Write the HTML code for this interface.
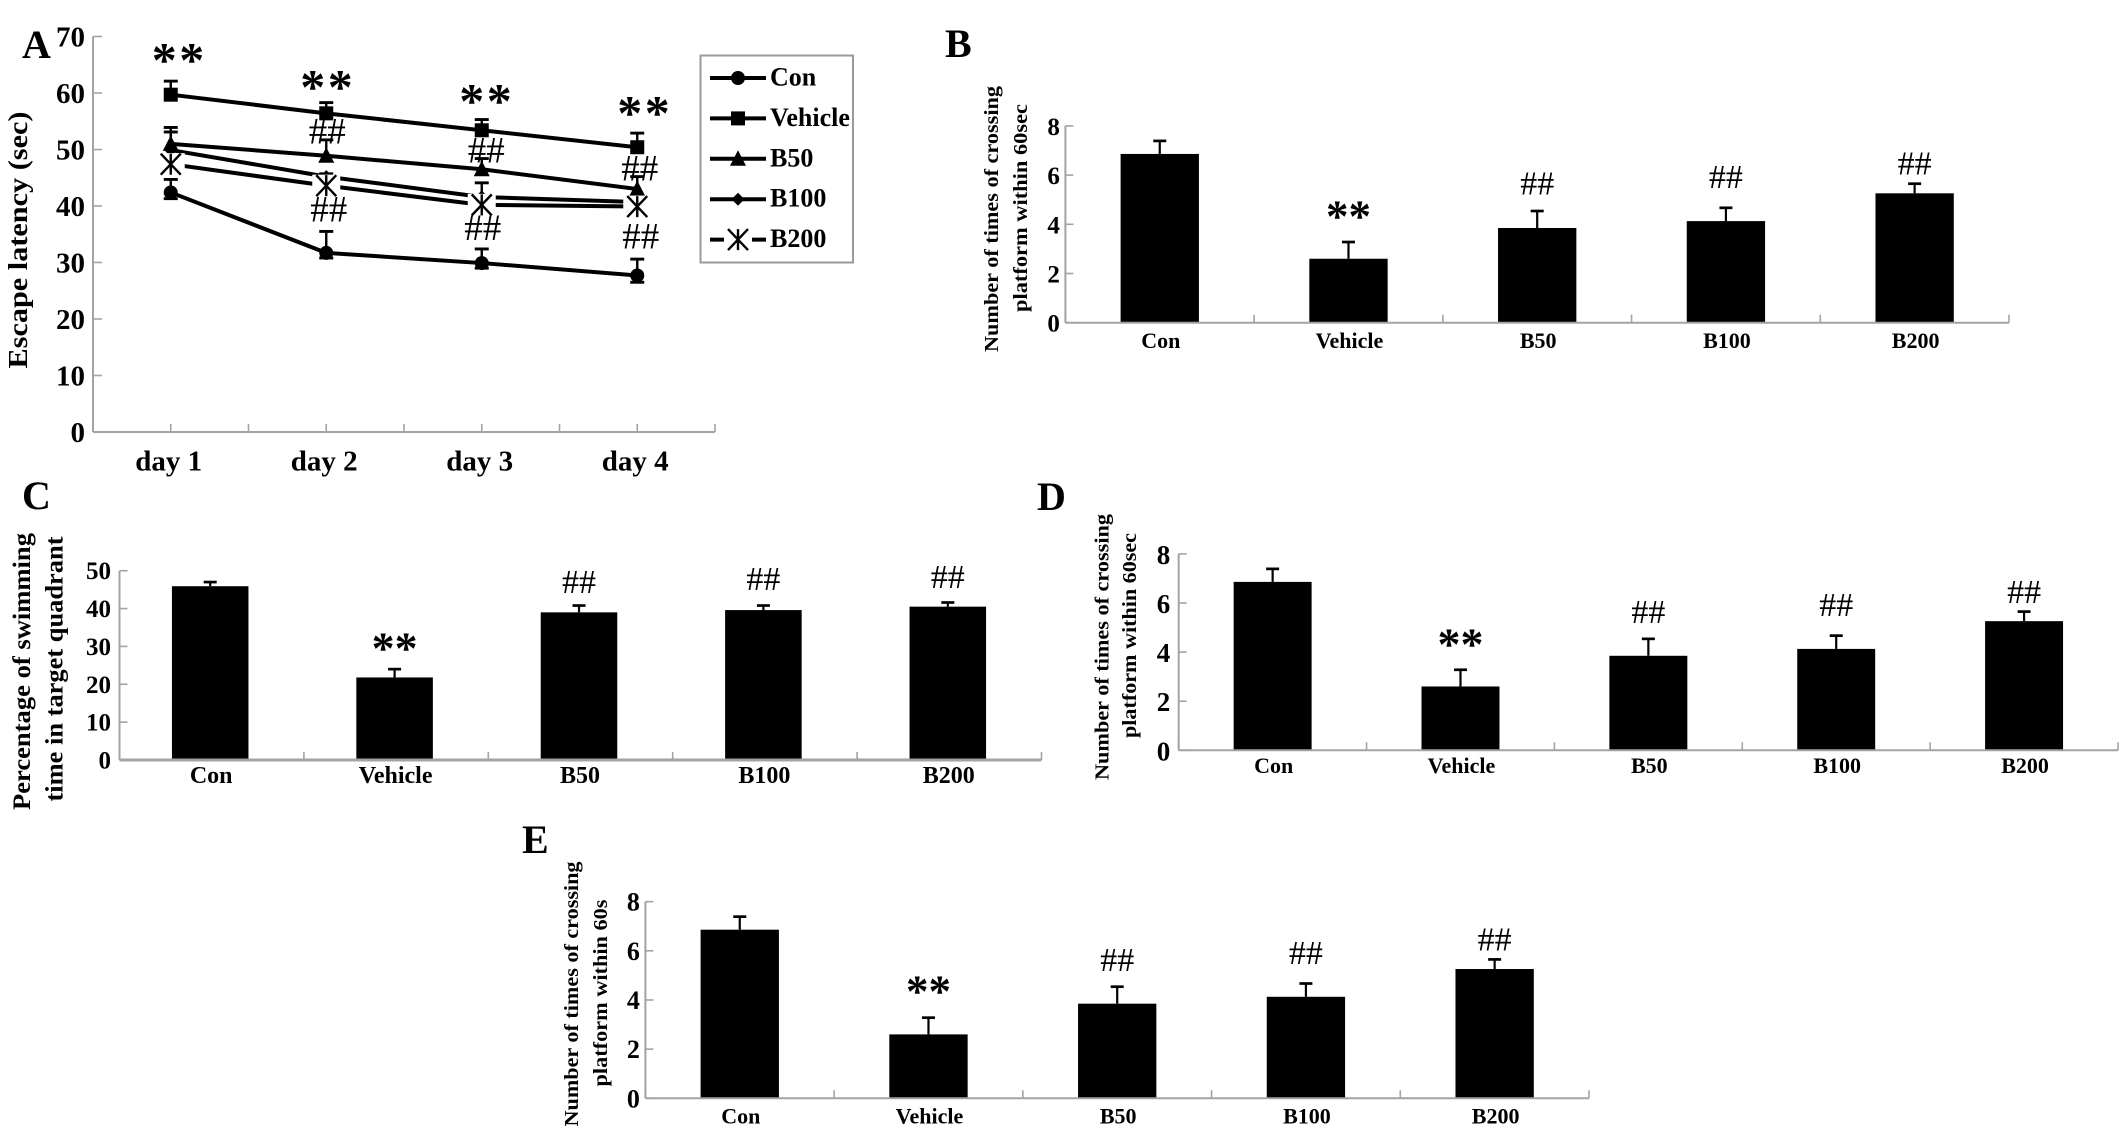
<!DOCTYPE html>
<html lang="en">
<head>
<meta charset="utf-8">
<title>Escape latency and platform crossing charts</title>
<style>
html,body{margin:0;padding:0;background:#fff;width:2126px;height:1129px;overflow:hidden}
svg{display:block}
text{font-family:"Liberation Serif","Times New Roman",serif;fill:#000}
.b{font-weight:bold}
</style>
</head>
<body>
<svg id="figure" xmlns="http://www.w3.org/2000/svg" width="2126" height="1129" viewBox="0 0 2126 1129">
<rect x="0" y="0" width="2126" height="1129" fill="#fff"/>
<text class="b" x="22" y="58" font-size="40">A</text>
<text class="b" x="945" y="57" font-size="40">B</text>
<text class="b" x="22" y="509" font-size="40">C</text>
<text class="b" x="1037" y="510" font-size="40">D</text>
<text class="b" x="522" y="853" font-size="40">E</text>

<text class="b" font-size="27" text-anchor="middle" textLength="257" lengthAdjust="spacingAndGlyphs" transform="translate(27 240) rotate(-90)">Escape latency (sec)</text>

<text class="b" font-size="20" text-anchor="middle" textLength="266" lengthAdjust="spacingAndGlyphs" transform="translate(998 219) rotate(-90)">Number of times of crossing</text>
<text class="b" font-size="20" text-anchor="middle" textLength="208" lengthAdjust="spacingAndGlyphs" transform="translate(1027 208) rotate(-90)">platform within 60sec</text>

<text class="b" font-size="25" text-anchor="middle" textLength="277" lengthAdjust="spacingAndGlyphs" transform="translate(30 671.5) rotate(-90)">Percentage of swimming</text>
<text class="b" font-size="25" text-anchor="middle" textLength="265" lengthAdjust="spacingAndGlyphs" transform="translate(62.5 669) rotate(-90)">time in target quadrant</text>

<text class="b" font-size="20" text-anchor="middle" textLength="266" lengthAdjust="spacingAndGlyphs" transform="translate(1108.5 647) rotate(-90)">Number of times of crossing</text>
<text class="b" font-size="20" text-anchor="middle" textLength="205" lengthAdjust="spacingAndGlyphs" transform="translate(1136 635.5) rotate(-90)">platform within 60sec</text>

<text class="b" font-size="20" text-anchor="middle" textLength="265" lengthAdjust="spacingAndGlyphs" transform="translate(578 994) rotate(-90)">Number of times of crossing</text>
<text class="b" font-size="20" text-anchor="middle" textLength="187" lengthAdjust="spacingAndGlyphs" transform="translate(607 993) rotate(-90)">platform within 60s</text>
</svg>

<script>
/* Panel A data */
const lineDays = ['day 1', 'day 2', 'day 3', 'day 4'];
const lineTicks = [0, 10, 20, 30, 40, 50, 60, 70];
const legendLabels = ['Con', 'Vehicle', 'B50', 'B100', 'B200'];
const conLatency = [42.4, 31.7, 29.9, 27.7];
const conErrTop = [44.7, 35.5, 32.4, 30.6];
const conErrBottom = [41.3, 30.8, 29.0, 26.5];
const vehicleLatency = [59.7, 56.4, 53.4, 50.4];
const vehicleErrTop = [62.1, 58.3, 55.3, 52.9];
const b50Latency = [51.0, 48.9, 46.5, 43.0];
const b50ErrTop = [53.9, 51.7, 48.4, 45.2];
const b100Latency = [49.9, 45.2, 41.6, 40.7];
const b100ErrTop = [53.1, 45.7, 44.1, 41.5];
const b200Latency = [47.4, 43.6, 40.2, 39.9];
const b200ErrTop = [49.0, 44.5, 41.0, 40.5];
const lineStarLevels = [67.2, 62.4, 59.9, 57.8];
const lineHashUpperLevels = [null, 53.2, 49.9, 46.7];
const lineHashLowerLevels = [null, 39.4, 36.1, 34.6];

/* Bar panels data */
const barCategories = ['Con', 'Vehicle', 'B50', 'B100', 'B200'];
const barMarks = ['', '**', '##', '##', '##'];
const crossingTicks = [0, 2, 4, 6, 8];
const quadrantTicks = [0, 10, 20, 30, 40, 50];

const panelBValues = [6.86, 2.6, 3.85, 4.13, 5.26];
const panelBErrTop = [7.39, 3.28, 4.54, 4.67, 5.65];
const panelBMarkLevels = [null, 4.58, 5.67, 5.93, 6.48];

const panelCValues = [45.9, 21.8, 39.0, 39.6, 40.5];
const panelCErrTop = [47.0, 24.0, 40.8, 40.8, 41.6];
const panelCMarkLevels = [null, 31.3, 47.1, 47.8, 48.4];

const panelDValues = [6.86, 2.6, 3.85, 4.13, 5.26];
const panelDErrTop = [7.39, 3.28, 4.54, 4.67, 5.65];
const panelDMarkLevels = [null, 4.6, 5.65, 5.92, 6.45];

const panelEValues = [6.86, 2.6, 3.85, 4.13, 5.26];
const panelEErrTop = [7.39, 3.28, 4.54, 4.67, 5.65];
const panelEMarkLevels = [null, 4.61, 5.63, 5.92, 6.47];

const NS = 'http://www.w3.org/2000/svg';
const figure = document.getElementById('figure');
const AXIS_COLOR = '#a3a3a3';

function make(tag, name, attrs, parent) {
  const el = document.createElementNS(NS, tag);
  
  
  for (const key in attrs) el.setAttribute(key, attrs[key]);
  parent.appendChild(el);
  return el;
}
function seg(name, x1, y1, x2, y2, color, width, parent) {
  return make('line', name, {x1: x1, y1: y1, x2: x2, y2: y2, stroke: color, 'stroke-width': width}, parent);
}
function label(name, str, x, y, size, anchor, bold, parent) {
  const t = make('text', name, {x: x, y: y, 'font-size': size, 'text-anchor': anchor, 'font-weight': bold ? 'bold' : 'normal'}, parent);
  t.textContent = str;
  return t;
}
function drawStars(name, cx, cy, size, spacing, parent) {
  const t = label(name, '**', cx, cy + 0.48 * size, size, 'middle', true, parent);
  t.setAttribute('letter-spacing', spacing);
}
function drawHashes(name, cx, cy, size, parent) {
  label(name, '##', cx, cy + 0.33 * size, size, 'middle', false, parent);
}
function drawErr(name, x, yFrom, yTo, capHalf, width, parent) {
  seg(name + '-stem', x, yFrom, x, yTo, '#000', width, parent);
  seg(name + '-cap', x - capHalf, yTo, x + capHalf, yTo, '#000', width + 0.5, parent);
}

/* ---------- line panel A ---------- */
function marker(kind, name, x, y, parent) {
  if (kind === 'circle') {
    make('circle', name, {cx: x, cy: y, r: 7, fill: '#000'}, parent);
  } else if (kind === 'square') {
    make('rect', name, {x: x - 7, y: y - 7, width: 14, height: 14, fill: '#000'}, parent);
  } else if (kind === 'triangle') {
    make('polygon', name, {points: (x - 8) + ',' + (y + 7) + ' ' + x + ',' + (y - 8.5) + ' ' + (x + 8) + ',' + (y + 7), fill: '#000'}, parent);
  } else if (kind === 'diamond') {
    make('polygon', name, {points: (x - 6.5) + ',' + y + ' ' + x + ',' + (y - 6.5) + ' ' + (x + 6.5) + ',' + y + ' ' + x + ',' + (y + 6.5), fill: '#000'}, parent);
  } else {
    const g = make('g', name, {}, parent);
    make('rect', name + '-halo', {x: x - 14, y: y - 11, width: 28, height: 22, fill: '#fff'}, g);
    const star = 'M' + (x - 10) + ' ' + (y - 10.5) + 'L' + (x + 10) + ' ' + (y + 10.5) +
      'M' + (x + 10) + ' ' + (y - 10.5) + 'L' + (x - 10) + ' ' + (y + 10.5) +
      'M' + x + ' ' + (y - 10.5) + 'L' + x + ' ' + (y + 10.5);
    make('path', name + '-star', {d: star, stroke: '#000', 'stroke-width': 2.4, fill: 'none'}, g);
  }
}

function drawLinePanel() {
  const g = make('g', 'panel-a-line-chart', {}, figure);
  const x0 = 93, x1 = 715, y0 = 432, perUnit = 5.65;
  const band = (x1 - x0) / lineDays.length;
  const xAt = i => x0 + band * (i + 0.5);
  const yAt = v => y0 - perUnit * v;

  seg('a-y-axis', x0, yAt(lineTicks[lineTicks.length - 1]), x0, y0, AXIS_COLOR, 2, g);
  seg('a-x-axis', x0, y0, x1, y0, AXIS_COLOR, 2, g);
  lineTicks.forEach(t => {
    seg('a-y-tick-' + t, x0, yAt(t), x0 + 9, yAt(t), AXIS_COLOR, 1.6, g);
    label('a-y-tick-label-' + t, String(t), 85, yAt(t) + 10, 29, 'end', true, g);
  });
  for (let i = 0; i <= lineDays.length; i++) {
    seg('a-x-tick-' + i, x0 + band * i, y0, x0 + band * i, y0 - 8, AXIS_COLOR, 1.6, g);
  }
  const dayLabelDx = -2;
  lineDays.forEach((d, i) => {
    seg('a-x-center-tick-' + i, xAt(i), y0, xAt(i), y0 - 8, AXIS_COLOR, 1.6, g);
    label('a-x-label-' + (i + 1), d, xAt(i) + dayLabelDx, 470.5, 29, 'middle', true, g);
  });

  const series = [
    {key: 'vehicle', values: vehicleLatency, top: vehicleErrTop, kind: 'square'},
    {key: 'b50', values: b50Latency, top: b50ErrTop, kind: 'triangle'},
    {key: 'b100', values: b100Latency, top: b100ErrTop, kind: 'diamond'},
    {key: 'con', values: conLatency, top: conErrTop, bottom: conErrBottom, kind: 'circle'},
    {key: 'b200', values: b200Latency, top: b200ErrTop, kind: 'star'}
  ];
  series.forEach(s => {
    const pts = s.values.map((v, i) => xAt(i) + ',' + yAt(v)).join(' ');
    make('polyline', 'a-line-' + s.key, {points: pts, fill: 'none', stroke: '#000', 'stroke-width': 4, 'stroke-linejoin': 'round'}, g);
  });
  series.forEach(s => {
    s.values.forEach((v, i) => {
      drawErr('a-error-top-' + s.key + '-' + (i + 1), xAt(i), yAt(v), yAt(s.top[i]), 7, 2.4, g);
      if (s.bottom) drawErr('a-error-bottom-' + s.key + '-' + (i + 1), xAt(i), yAt(v), yAt(s.bottom[i]), 7, 2.4, g);
    });
  });
  series.forEach(s => {
    s.values.forEach((v, i) => marker(s.kind, 'a-marker-' + s.key + '-' + (i + 1), xAt(i), yAt(v), g));
  });

  const starDx = [8.5, 1.5, 5, 7.5];
  const upperDx = [0, 1, 4.5, 2.5];
  const lowerDx = [0, 2.5, 1, 3.5];
  lineDays.forEach((d, i) => {
    drawStars('a-significance-stars-' + (i + 1), xAt(i) + starDx[i], yAt(lineStarLevels[i]), 50, 2.5, g);
    if (lineHashUpperLevels[i] !== null) drawHashes('a-significance-hash-upper-' + (i + 1), xAt(i) + upperDx[i], yAt(lineHashUpperLevels[i]), 37, g);
    if (lineHashLowerLevels[i] !== null) drawHashes('a-significance-hash-lower-' + (i + 1), xAt(i) + lowerDx[i], yAt(lineHashLowerLevels[i]), 37, g);
  });

  const lg = make('g', 'a-legend', {}, g);
  make('rect', 'a-legend-box', {x: 700.5, y: 55.5, width: 152.5, height: 207, fill: '#fff', stroke: '#9a9a9a', 'stroke-width': 2}, lg);
  const kinds = ['circle', 'square', 'triangle', 'diamond', 'star'];
  legendLabels.forEach((name, i) => {
    const ly = 78 + 40.4 * i;
    const entry = make('g', 'legend-entry-' + name.toLowerCase(), {}, lg);
    seg('legend-line-' + name.toLowerCase(), 710, ly, 766, ly, '#000', 4, entry);
    marker(kinds[i], 'legend-marker-' + name.toLowerCase(), 738, ly, entry);
    label('legend-label-' + name.toLowerCase(), name, 770, ly + 7.5, 26, 'start', true, entry);
  });
}

/* ---------- bar panels ---------- */
function drawBarPanel(key, cfg) {
  const g = make('g', 'panel-' + key + '-bar-chart', {}, figure);
  const band = (cfg.x1 - cfg.x0) / cfg.categories.length;
  const xAt = i => cfg.x0 + band * (i + 0.5) + cfg.barShift;
  const yAt = v => cfg.y0 - cfg.perUnit * v;
  const barWidth = band * 0.415;

  cfg.values.forEach((v, i) => {
    make('rect', key + '-bar-' + cfg.categories[i].toLowerCase(), {x: xAt(i) - barWidth / 2, y: yAt(v), width: barWidth, height: cfg.y0 - yAt(v), fill: '#000'}, g);
    drawErr(key + '-error-' + cfg.categories[i].toLowerCase(), xAt(i), yAt(v), yAt(cfg.errTop[i]), 6.5, 2.2, g);
  });

  seg(key + '-y-axis', cfg.x0, yAt(cfg.ticks[cfg.ticks.length - 1]), cfg.x0, cfg.y0, AXIS_COLOR, 2, g);
  seg(key + '-x-axis', cfg.x0, cfg.y0, cfg.x1, cfg.y0, AXIS_COLOR, cfg.axisWidth, g);
  cfg.ticks.forEach(t => {
    seg(key + '-y-tick-' + t, cfg.x0, yAt(t), cfg.x0 + 8, yAt(t), AXIS_COLOR, 1.6, g);
    label(key + '-y-tick-label-' + t, String(t), cfg.x0 - cfg.tickGap, yAt(t) + cfg.tickDrop, cfg.tickSize, 'end', true, g);
  });
  for (let i = 0; i <= cfg.categories.length; i++) {
    seg(key + '-x-tick-' + i, cfg.x0 + band * i, cfg.y0, cfg.x0 + band * i, cfg.y0 - 8, AXIS_COLOR, 1.6, g);
  }
  cfg.categories.forEach((c, i) => {
    label(key + '-x-label-' + c.toLowerCase(), c, xAt(i) + 1, cfg.y0 + cfg.labelGap, cfg.labelSize, 'middle', true, g);
    if (cfg.marks[i] === '**') {
      drawStars(key + '-significance-stars-' + c.toLowerCase(), xAt(i), yAt(cfg.markLevels[i]), cfg.starSize, 0, g);
    } else if (cfg.marks[i] === '##') {
      drawHashes(key + '-significance-hash-' + c.toLowerCase(), xAt(i), yAt(cfg.markLevels[i]), 34, g);
    }
  });
}

drawLinePanel();
drawBarPanel('b', {categories: barCategories, values: panelBValues, errTop: panelBErrTop, marks: barMarks, markLevels: panelBMarkLevels, ticks: crossingTicks,
  x0: 1065.4, x1: 2009, barShift: 0, y0: 322.7, perUnit: 24.6, tickGap: 5.5, tickSize: 25, tickDrop: 9, labelGap: 25.5, labelSize: 22, starSize: 45, axisWidth: 2});
drawBarPanel('c', {categories: barCategories, values: panelCValues, errTop: panelCErrTop, marks: barMarks, markLevels: panelCMarkLevels, ticks: quadrantTicks,
  x0: 119.5, x1: 1041.5, barShift: -1.5, y0: 760, perUnit: 3.786, tickGap: 8.5, tickSize: 25, tickDrop: 8.5, labelGap: 23, labelSize: 24, starSize: 46, axisWidth: 3});
drawBarPanel('d', {categories: barCategories, values: panelDValues, errTop: panelDErrTop, marks: barMarks, markLevels: panelDMarkLevels, ticks: crossingTicks,
  x0: 1178.7, x1: 2118, barShift: 0, y0: 750.3, perUnit: 24.55, tickGap: 8.5, tickSize: 27, tickDrop: 10, labelGap: 22.5, labelSize: 22, starSize: 46, axisWidth: 2});
drawBarPanel('e', {categories: barCategories, values: panelEValues, errTop: panelEErrTop, marks: barMarks, markLevels: panelEMarkLevels, ticks: crossingTicks,
  x0: 645.4, x1: 1589, barShift: 0, y0: 1098.3, perUnit: 24.58, tickGap: 5.5, tickSize: 26, tickDrop: 9, labelGap: 25, labelSize: 22, starSize: 45, axisWidth: 2});
</script>
</body>
</html>
